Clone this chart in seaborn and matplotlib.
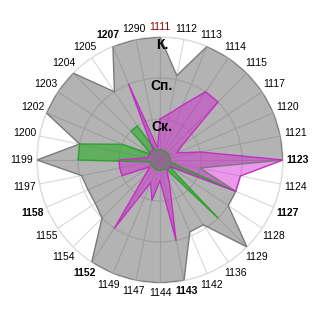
import numpy as np
import matplotlib
matplotlib.use("Agg")
import matplotlib.pyplot as plt
import seaborn as sns
import pandas as pd

categories = ['1111', '1112', '1113', '1114', '1115', '1117', '1120', '1121',
              '1123', '1124', '1127', '1128', '1129', '1136', '1142', '1143',
              '1144', '1147', '1149', '1152', '1154', '1155', '1158', '1197',
              '1199', '1200', '1202', '1203', '1204', '1205', '1207', '1290']
bold_labels = ['1207', '1123', '1127', '1158', '1152', '1143']
red_labels = ['1111']

gray_vals = [3, 2.1, 3, 3, 3, 3, 3, 3, 3, 1.0, 2.0, 2.0, 3, 1.9, 1.9, 3,
             3, 3, 3, 3, 2.0, 1.9, 1.9, 1.95, 3, 2.0, 3, 3, 3, 2.0, 3, 3]
green_vals = [0.25, 0.25, 0.25, 0.25, 0.25, 0.25, 0.25, 0.25, 0.25, 0.25, 2.0, 0.25, 2.0, 0.25, 0.25, 0.25,
              0.25, 0.25, 0.25, 0.25, 0.25, 0.25, 0.25, 0.25, 2.0, 2.0, 1.0, 0.25, 1.0, 1.0, 0.25, 0.25]
magenta_vals = [1.0, 1.15, 1.45, 2.0, 2.0, 0.65, 0.45, 1.0, 3.0, 2.0, 2.0, 0.3, 0.3, 0.3, 0.6, 2.0,
                0.5, 1.0, 0.6, 2.0, 0.5, 0.3, 1.0, 1.0, 1.0, 0.3, 0.3, 0.3, 0.3, 0.3, 2.0, 0.3]

ring_levels = [1, 2, 3]
ring_labels = ['Ск.', 'Сп.', 'К.']

sns.set_theme(style="white")
plt.rcParams['font.family'] = ['Liberation Sans', 'DejaVu Sans']

n = len(categories)
theta = np.arange(n) * 2 * np.pi / n

fig = plt.figure(figsize=(3.2, 3.2), dpi=100)
R_PX = 123.0
ax = fig.add_axes([(160 - R_PX) / 320, (160 - R_PX) / 320, 2 * R_PX / 320, 2 * R_PX / 320],
                  projection='polar')
ax.set_theta_zero_location('N')
ax.set_theta_direction(-1)
ax.set_ylim(0, 3)
ax.set_xticks(theta)
ax.set_xticklabels([])
ax.set_yticks(ring_levels)
ax.set_yticklabels([])
ax.grid(True, color='#dcdcdc', linewidth=0.9)
ax.spines['polar'].set_color('#dcdcdc')
ax.spines['polar'].set_linewidth(0.9)
ax.set_axisbelow(True)
ax.set_facecolor('white')

series = [
    ('gray', gray_vals, '#505050', 0.43, '#7a7a7a'),
    ('green', green_vals, '#28ad28', 0.6, '#30a030'),
    ('magenta', magenta_vals, '#d21ed2', 0.45, '#c030c0'),
]

for name, vals, fc, alpha, ec in series:
    th = np.append(theta, theta[0] + 2 * np.pi)
    rv = np.append(vals, vals[0])
    df = pd.DataFrame({'theta': th, 'r': rv})
    ax.fill(df['theta'], df['r'], color=fc, alpha=alpha, linewidth=0, zorder=2)
    sns.lineplot(data=df, x='theta', y='r', ax=ax, color=ec, linewidth=1.0,
                 sort=False, estimator=None, zorder=3)

ax.set_xlabel('')
ax.set_ylabel('')
ax.set_ylim(0, 3)

px_per_unit = R_PX / 3.0
for t, lab in zip(theta, categories):
    s = abs(np.sin(t))
    r_lab = (133 + 5 * s) / px_per_unit
    weight = 'bold' if lab in bold_labels else 'normal'
    color = '#8b0000' if lab in red_labels else 'black'
    ax.text(t, r_lab, lab, ha='center', va='center', fontsize=7.5,
            fontweight=weight, color=color, clip_on=False, zorder=5)

for lvl, lab in zip(ring_levels, ring_labels):
    ax.annotate(lab, xy=(0, lvl), xytext=(2, -8), textcoords='offset pixels',
                ha='center', va='center', fontsize=10, fontweight='bold',
                color='black', zorder=6, annotation_clip=False)

fig.savefig('out.png', dpi=100)
